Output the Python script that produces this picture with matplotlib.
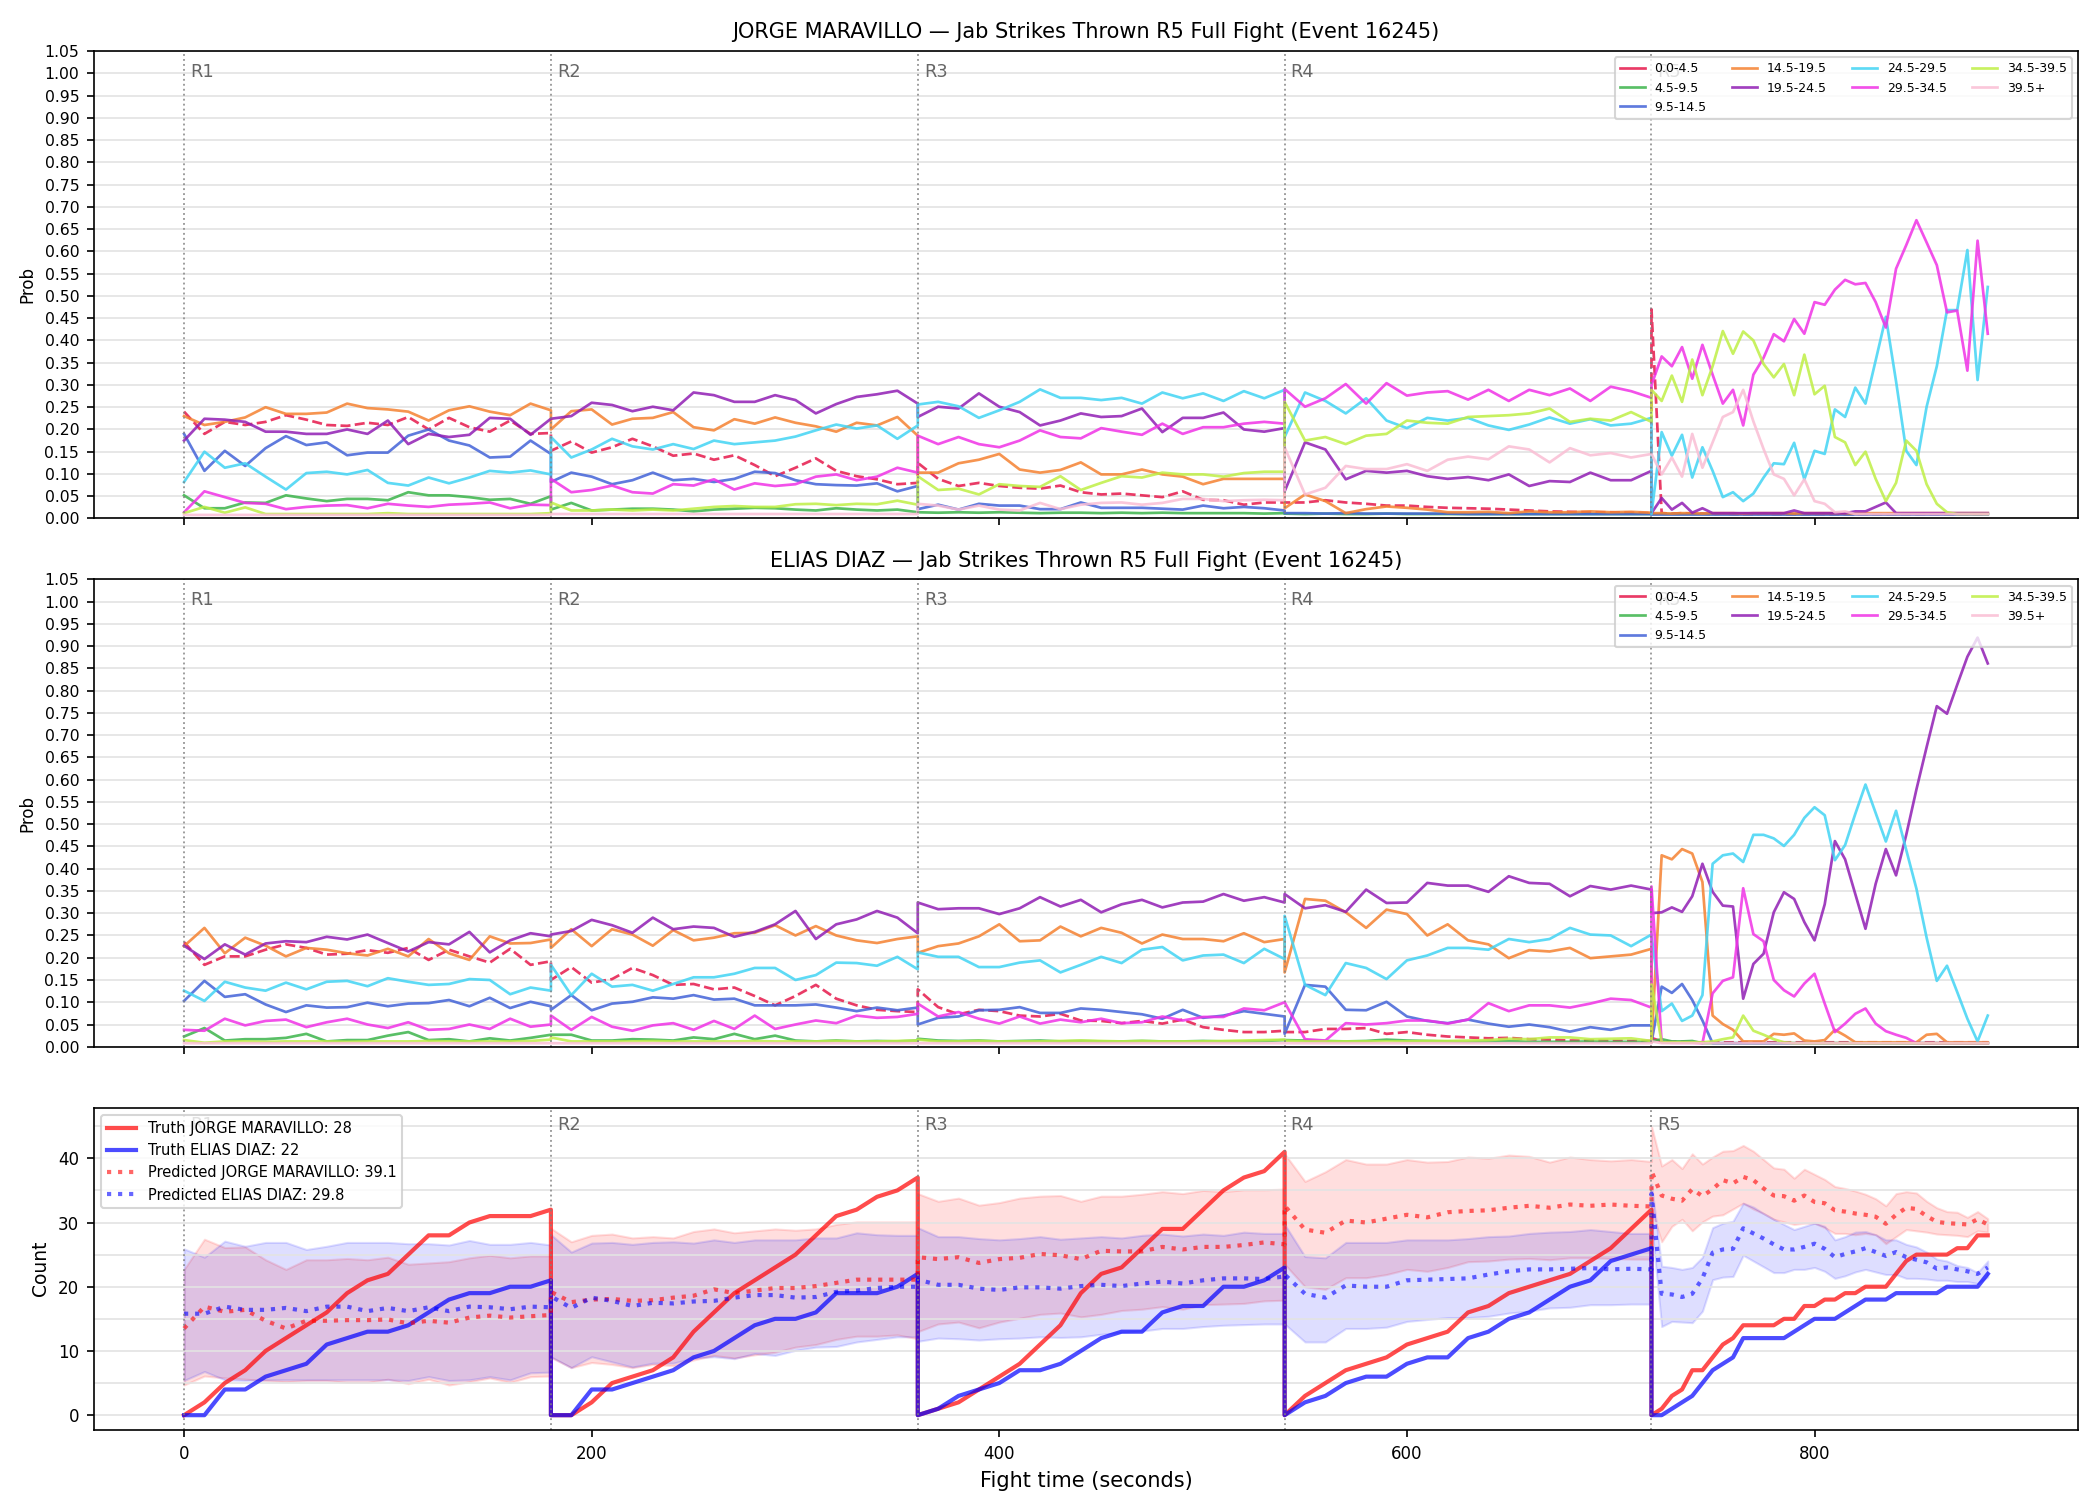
import numpy as np
import matplotlib.pyplot as plt
from matplotlib.ticker import MultipleLocator, FormatStrFormatter

# time grid: rounds 1-4 read every 10 s, round 5 every 5 s (fight stopped at 885 s)
round_starts = [0, 180, 360, 540, 720]
t = np.concatenate([np.arange(0, 181, 10) + s for s in round_starts[:4]]
                   + [np.arange(0, 166, 5) + 720])

bins = ['0.0-4.5', '4.5-9.5', '9.5-14.5', '14.5-19.5', '19.5-24.5',
        '24.5-29.5', '29.5-34.5', '34.5-39.5', '39.5+']
colors = ['#e6194b', '#3cb44b', '#4363d8', '#f58231', '#911eb4',
          '#42d4f4', '#f032e6', '#bfef45', '#fabed4']

# ---- JORGE MARAVILLO bin probabilities ----
jorge_b0 = [0.24, 0.19, 0.217, 0.21, 0.217, 0.232, 0.222, 0.21, 0.208, 0.215, 0.21, 0.228, 0.2, 0.226, 0.205, 0.195, 0.22, 0.19, 0.192,
            0.152, 0.173, 0.148, 0.16, 0.179, 0.162, 0.141, 0.146, 0.132, 0.142, 0.12, 0.095, 0.114, 0.135, 0.107, 0.095, 0.088, 0.077, 0.08,
            0.125, 0.089, 0.073, 0.08, 0.073, 0.069, 0.067, 0.074, 0.059, 0.054, 0.056, 0.052, 0.048, 0.061, 0.042, 0.041, 0.031, 0.036, 0.036,
            0.036, 0.036, 0.041, 0.036, 0.033, 0.029, 0.029, 0.026, 0.024, 0.023, 0.022, 0.02, 0.018, 0.016, 0.015, 0.014, 0.014, 0.013, 0.012,
            0.47, 0.012, 0.011, 0.012, 0.011, 0.011, 0.01, 0.011, 0.01, 0.01, 0.01, 0.011, 0.01, 0.01, 0.01, 0.01, 0.01, 0.01, 0.01, 0.01,
            0.01, 0.01, 0.01, 0.01, 0.01, 0.01, 0.01, 0.01, 0.01, 0.01, 0.01, 0.01, 0.01, 0.01]
jorge_b1 = [0.052, 0.023, 0.023, 0.036, 0.035, 0.052, 0.045, 0.039, 0.044, 0.044, 0.041, 0.059, 0.052, 0.052, 0.048, 0.042, 0.044, 0.033, 0.05,
            0.02, 0.035, 0.018, 0.02, 0.022, 0.022, 0.02, 0.016, 0.02, 0.022, 0.024, 0.023, 0.02, 0.018, 0.023, 0.02, 0.018, 0.02, 0.014,
            0.014, 0.013, 0.014, 0.013, 0.014, 0.013, 0.012, 0.013, 0.013, 0.012, 0.013, 0.012, 0.013, 0.012, 0.012, 0.012, 0.012, 0.011, 0.012,
            0.011, 0.01, 0.011, 0.01, 0.01, 0.011, 0.01, 0.01, 0.01, 0.01, 0.01, 0.01, 0.01, 0.01, 0.01, 0.01, 0.01, 0.01, 0.01,
            0.01, 0.01, 0.01, 0.01, 0.01, 0.01, 0.01, 0.01, 0.01, 0.01, 0.01, 0.01, 0.01, 0.01, 0.01, 0.01, 0.01, 0.01, 0.01, 0.01,
            0.01, 0.01, 0.01, 0.01, 0.01, 0.01, 0.01, 0.01, 0.01, 0.01, 0.01, 0.01, 0.01, 0.01]
jorge_b2 = [0.19, 0.107, 0.152, 0.118, 0.158, 0.185, 0.165, 0.171, 0.142, 0.148, 0.148, 0.186, 0.2, 0.175, 0.164, 0.137, 0.139, 0.175, 0.145,
            0.082, 0.103, 0.094, 0.077, 0.086, 0.103, 0.086, 0.089, 0.082, 0.089, 0.105, 0.102, 0.086, 0.077, 0.075, 0.074, 0.079, 0.061, 0.073,
            0.021, 0.031, 0.02, 0.033, 0.029, 0.029, 0.021, 0.021, 0.036, 0.024, 0.024, 0.024, 0.022, 0.02, 0.029, 0.023, 0.026, 0.023, 0.018,
            0.012, 0.012, 0.011, 0.012, 0.011, 0.011, 0.011, 0.011, 0.011, 0.01, 0.01, 0.01, 0.01, 0.01, 0.01, 0.01, 0.01, 0.01, 0.01,
            0.009, 0.009, 0.009, 0.009, 0.009, 0.009, 0.009, 0.009, 0.009, 0.009, 0.009, 0.009, 0.009, 0.009, 0.009, 0.009, 0.009,
            0.009, 0.009, 0.009, 0.009, 0.009, 0.009, 0.009, 0.009, 0.009, 0.009, 0.009, 0.009, 0.009, 0.009, 0.009, 0.009, 0.009]
jorge_b3 = [0.23, 0.21, 0.217, 0.227, 0.25, 0.235, 0.235, 0.238, 0.258, 0.248, 0.245, 0.24, 0.22, 0.243, 0.252, 0.24, 0.232, 0.258, 0.243,
            0.2, 0.241, 0.245, 0.211, 0.224, 0.226, 0.239, 0.205, 0.198, 0.223, 0.213, 0.227, 0.215, 0.207, 0.195, 0.215, 0.209, 0.228, 0.186,
            0.103, 0.103, 0.124, 0.132, 0.145, 0.11, 0.103, 0.109, 0.126, 0.099, 0.099, 0.11, 0.099, 0.094, 0.077, 0.089, 0.089, 0.089, 0.089,
            0.023, 0.054, 0.039, 0.012, 0.021, 0.027, 0.024, 0.02, 0.014, 0.014, 0.015, 0.012, 0.016, 0.014, 0.014, 0.016, 0.014, 0.015, 0.013,
            0.012, 0.012, 0.011, 0.012, 0.012, 0.011, 0.012, 0.012, 0.012, 0.011, 0.012, 0.012, 0.012, 0.012, 0.011, 0.012, 0.012,
            0.012, 0.012, 0.012, 0.011, 0.012, 0.012, 0.012, 0.012, 0.012, 0.012, 0.012, 0.012, 0.012, 0.012, 0.012, 0.012, 0.012]
jorge_b4 = [0.175, 0.224, 0.222, 0.217, 0.195, 0.195, 0.19, 0.19, 0.2, 0.19, 0.22, 0.167, 0.19, 0.183, 0.188, 0.226, 0.224, 0.188, 0.224,
            0.224, 0.23, 0.26, 0.255, 0.241, 0.251, 0.243, 0.283, 0.277, 0.262, 0.262, 0.277, 0.266, 0.236, 0.257, 0.273, 0.279, 0.287, 0.258,
            0.228, 0.251, 0.247, 0.281, 0.251, 0.239, 0.209, 0.22, 0.236, 0.228, 0.23, 0.247, 0.194, 0.226, 0.226, 0.238, 0.2, 0.195, 0.203,
            0.061, 0.171, 0.155, 0.088, 0.107, 0.103, 0.107, 0.095, 0.089, 0.093, 0.086, 0.099, 0.073, 0.084, 0.082, 0.103, 0.086, 0.086, 0.107,
            0.012, 0.046, 0.02, 0.035, 0.013, 0.023, 0.012, 0.012, 0.012, 0.012, 0.012, 0.012, 0.012, 0.012, 0.018, 0.012, 0.012,
            0.012, 0.012, 0.012, 0.016, 0.016, 0.026, 0.036, 0.012, 0.012, 0.012, 0.012, 0.012, 0.012, 0.012, 0.012, 0.012, 0.012]
jorge_b5 = [0.082, 0.15, 0.114, 0.124, 0.094, 0.065, 0.102, 0.105, 0.099, 0.109, 0.08, 0.074, 0.092, 0.079, 0.092, 0.107, 0.103, 0.108, 0.099,
            0.183, 0.137, 0.155, 0.179, 0.162, 0.155, 0.167, 0.156, 0.175, 0.167, 0.171, 0.175, 0.184, 0.198, 0.211, 0.202, 0.209, 0.179, 0.209,
            0.256, 0.262, 0.252, 0.226, 0.243, 0.262, 0.29, 0.271, 0.271, 0.266, 0.271, 0.258, 0.283, 0.27, 0.281, 0.264, 0.286, 0.27, 0.289,
            0.183, 0.283, 0.264, 0.236, 0.27, 0.22, 0.203, 0.226, 0.22, 0.226, 0.209, 0.199, 0.211, 0.227, 0.213, 0.223, 0.209, 0.213, 0.226,
            0.01, 0.194, 0.141, 0.188, 0.092, 0.16, 0.107, 0.048, 0.059, 0.039, 0.056, 0.092, 0.124, 0.122, 0.17, 0.088, 0.152,
            0.145, 0.245, 0.228, 0.294, 0.258, 0.355, 0.453, 0.308, 0.152, 0.12, 0.251, 0.342, 0.468, 0.468, 0.603, 0.311, 0.52]
jorge_b6 = [0.014, 0.061, 0.048, 0.035, 0.033, 0.021, 0.026, 0.029, 0.03, 0.023, 0.033, 0.029, 0.026, 0.031, 0.033, 0.036, 0.023, 0.031, 0.03,
            0.089, 0.059, 0.064, 0.074, 0.059, 0.056, 0.077, 0.074, 0.088, 0.065, 0.079, 0.073, 0.077, 0.094, 0.099, 0.086, 0.094, 0.114, 0.103,
            0.186, 0.167, 0.183, 0.167, 0.16, 0.175, 0.198, 0.183, 0.18, 0.203, 0.195, 0.188, 0.213, 0.19, 0.205, 0.205, 0.213, 0.217, 0.213,
            0.291, 0.251, 0.27, 0.302, 0.258, 0.304, 0.276, 0.283, 0.286, 0.267, 0.289, 0.264, 0.289, 0.277, 0.292, 0.264, 0.296, 0.286, 0.271,
            0.30, 0.364, 0.342, 0.385, 0.314, 0.39, 0.323, 0.258, 0.289, 0.209, 0.323, 0.361, 0.414, 0.398, 0.448, 0.415, 0.486,
            0.48, 0.514, 0.536, 0.526, 0.529, 0.486, 0.429, 0.561, 0.614, 0.67, 0.62, 0.569, 0.463, 0.467, 0.332, 0.624, 0.415]
jorge_b7 = [0.012, 0.026, 0.013, 0.025, 0.01, 0.01, 0.01, 0.01, 0.01, 0.01, 0.012, 0.01, 0.01, 0.01, 0.01, 0.01, 0.01, 0.01, 0.012,
            0.036, 0.018, 0.018, 0.02, 0.018, 0.02, 0.018, 0.022, 0.026, 0.028, 0.026, 0.026, 0.032, 0.033, 0.03, 0.033, 0.032, 0.04, 0.031,
            0.095, 0.064, 0.067, 0.054, 0.077, 0.073, 0.071, 0.095, 0.064, 0.08, 0.095, 0.092, 0.103, 0.099, 0.099, 0.094, 0.102, 0.105, 0.105,
            0.262, 0.175, 0.183, 0.167, 0.186, 0.19, 0.22, 0.215, 0.213, 0.228, 0.23, 0.232, 0.236, 0.247, 0.217, 0.224, 0.22, 0.239, 0.217,
            0.289, 0.264, 0.321, 0.262, 0.357, 0.277, 0.342, 0.421, 0.37, 0.42, 0.40, 0.347, 0.317, 0.347, 0.277, 0.368, 0.279,
            0.298, 0.183, 0.171, 0.12, 0.15, 0.089, 0.039, 0.08, 0.175, 0.152, 0.077, 0.033, 0.014, 0.01, 0.01, 0.01, 0.01]
jorge_b8 = [0.008, 0.008, 0.008, 0.008, 0.008, 0.008, 0.008, 0.008, 0.008, 0.008, 0.008, 0.008, 0.008, 0.008, 0.008, 0.008, 0.008, 0.008, 0.008,
            0.01, 0.01, 0.01, 0.01, 0.01, 0.01, 0.01, 0.01, 0.01, 0.01, 0.01, 0.01, 0.01, 0.01, 0.01, 0.01, 0.01, 0.01, 0.01,
            0.033, 0.029, 0.02, 0.029, 0.02, 0.018, 0.035, 0.021, 0.031, 0.035, 0.036, 0.031, 0.035, 0.044, 0.044, 0.039, 0.041, 0.042, 0.041,
            0.16, 0.054, 0.069, 0.118, 0.111, 0.111, 0.122, 0.107, 0.132, 0.139, 0.133, 0.162, 0.155, 0.126, 0.158, 0.142, 0.147, 0.137, 0.145,
            0.145, 0.099, 0.137, 0.094, 0.19, 0.114, 0.171, 0.228, 0.239, 0.289, 0.218, 0.156, 0.099, 0.089, 0.052, 0.088, 0.039,
            0.033, 0.014, 0.016, 0.01, 0.01, 0.01, 0.01, 0.01, 0.01, 0.01, 0.01, 0.01, 0.01, 0.01, 0.01, 0.01, 0.01]

# ---- ELIAS DIAZ bin probabilities ----
elias_b0 = [0.235, 0.184, 0.203, 0.203, 0.218, 0.23, 0.222, 0.207, 0.209, 0.217, 0.211, 0.222, 0.195, 0.218, 0.203, 0.189, 0.22, 0.184, 0.192,
            0.15, 0.179, 0.144, 0.152, 0.177, 0.161, 0.139, 0.141, 0.129, 0.133, 0.114, 0.093, 0.114, 0.139, 0.108, 0.093, 0.083, 0.08, 0.078,
            0.129, 0.089, 0.073, 0.083, 0.08, 0.07, 0.068, 0.074, 0.059, 0.058, 0.053, 0.058, 0.052, 0.061, 0.044, 0.038, 0.033, 0.033, 0.036,
            0.033, 0.033, 0.04, 0.04, 0.042, 0.029, 0.033, 0.027, 0.023, 0.021, 0.019, 0.02, 0.017, 0.016, 0.014, 0.014, 0.013, 0.013, 0.013,
            0.02, 0.012, 0.011, 0.011, 0.01, 0.01, 0.01, 0.01, 0.01, 0.01, 0.01, 0.01, 0.01, 0.01, 0.01, 0.01, 0.01,
            0.01, 0.01, 0.01, 0.01, 0.01, 0.01, 0.01, 0.01, 0.01, 0.01, 0.01, 0.01, 0.01, 0.01, 0.01, 0.01, 0.01]
elias_b1 = [0.023, 0.042, 0.014, 0.017, 0.017, 0.02, 0.029, 0.012, 0.015, 0.015, 0.025, 0.033, 0.015, 0.017, 0.012, 0.019, 0.014, 0.02, 0.027,
            0.027, 0.027, 0.014, 0.014, 0.017, 0.016, 0.014, 0.021, 0.017, 0.029, 0.017, 0.025, 0.014, 0.012, 0.014, 0.012, 0.013, 0.012, 0.014,
            0.018, 0.014, 0.013, 0.014, 0.012, 0.013, 0.014, 0.012, 0.013, 0.012, 0.012, 0.013, 0.012, 0.012, 0.013, 0.012, 0.012, 0.013, 0.015,
            0.015, 0.014, 0.013, 0.012, 0.013, 0.016, 0.014, 0.013, 0.012, 0.011, 0.012, 0.013, 0.011, 0.011, 0.011, 0.012, 0.011, 0.011, 0.012,
            0.012, 0.017, 0.012, 0.012, 0.013, 0.008, 0.008, 0.008, 0.008, 0.008, 0.008, 0.008, 0.008, 0.008, 0.008, 0.008, 0.008,
            0.008, 0.008, 0.008, 0.008, 0.008, 0.008, 0.008, 0.008, 0.008, 0.008, 0.008, 0.008, 0.008, 0.008, 0.008, 0.008, 0.008]
elias_b2 = [0.103, 0.148, 0.112, 0.118, 0.095, 0.078, 0.093, 0.088, 0.089, 0.099, 0.091, 0.097, 0.098, 0.105, 0.091, 0.11, 0.087, 0.101, 0.091,
            0.083, 0.116, 0.082, 0.097, 0.101, 0.111, 0.108, 0.116, 0.106, 0.108, 0.093, 0.093, 0.093, 0.095, 0.088, 0.08, 0.088, 0.082, 0.088,
            0.05, 0.065, 0.068, 0.082, 0.083, 0.089, 0.076, 0.076, 0.086, 0.083, 0.078, 0.073, 0.063, 0.083, 0.065, 0.07, 0.08, 0.074, 0.068,
            0.029, 0.139, 0.135, 0.083, 0.082, 0.101, 0.068, 0.058, 0.053, 0.061, 0.052, 0.045, 0.05, 0.044, 0.034, 0.044, 0.038, 0.048, 0.048,
            0.01, 0.135, 0.121, 0.141, 0.105, 0.059, 0.008, 0.008, 0.008, 0.008, 0.008, 0.008, 0.008, 0.008, 0.008, 0.008, 0.008,
            0.008, 0.008, 0.008, 0.008, 0.008, 0.008, 0.008, 0.008, 0.008, 0.008, 0.008, 0.008, 0.008, 0.008, 0.008, 0.008, 0.008]
elias_b3 = [0.226, 0.267, 0.21, 0.245, 0.227, 0.203, 0.222, 0.218, 0.21, 0.205, 0.22, 0.203, 0.242, 0.21, 0.195, 0.248, 0.232, 0.233, 0.241,
            0.222, 0.264, 0.226, 0.264, 0.252, 0.227, 0.262, 0.239, 0.245, 0.255, 0.256, 0.273, 0.25, 0.271, 0.25, 0.239, 0.233, 0.242, 0.248,
            0.211, 0.226, 0.232, 0.248, 0.275, 0.237, 0.239, 0.27, 0.248, 0.267, 0.256, 0.232, 0.252, 0.242, 0.242, 0.237, 0.255, 0.235, 0.242,
            0.167, 0.332, 0.328, 0.302, 0.267, 0.308, 0.298, 0.25, 0.275, 0.239, 0.23, 0.199, 0.217, 0.214, 0.222, 0.199, 0.203, 0.207, 0.22,
            0.01, 0.43, 0.421, 0.444, 0.434, 0.37, 0.07, 0.051, 0.038, 0.012, 0.012, 0.012, 0.029, 0.027, 0.03, 0.014, 0.012,
            0.015, 0.038, 0.025, 0.01, 0.01, 0.01, 0.01, 0.01, 0.01, 0.01, 0.027, 0.029, 0.01, 0.01, 0.01, 0.01, 0.01]
elias_b4 = [0.227, 0.197, 0.23, 0.207, 0.232, 0.237, 0.235, 0.247, 0.241, 0.252, 0.233, 0.214, 0.235, 0.23, 0.258, 0.212, 0.239, 0.255, 0.248,
            0.252, 0.26, 0.285, 0.273, 0.256, 0.29, 0.264, 0.27, 0.267, 0.247, 0.258, 0.275, 0.305, 0.242, 0.275, 0.286, 0.305, 0.29, 0.255,
            0.324, 0.309, 0.311, 0.311, 0.298, 0.311, 0.336, 0.315, 0.33, 0.302, 0.32, 0.33, 0.313, 0.324, 0.326, 0.343, 0.328, 0.336, 0.324,
            0.343, 0.311, 0.318, 0.303, 0.353, 0.323, 0.324, 0.368, 0.362, 0.362, 0.348, 0.383, 0.368, 0.366, 0.338, 0.361, 0.353, 0.362, 0.353,
            0.30, 0.302, 0.313, 0.303, 0.338, 0.411, 0.348, 0.317, 0.315, 0.108, 0.186, 0.209, 0.302, 0.347, 0.332, 0.28, 0.239,
            0.32, 0.462, 0.421, 0.343, 0.265, 0.366, 0.444, 0.385, 0.476, 0.578, 0.673, 0.765, 0.748, 0.813, 0.876, 0.919, 0.861]
elias_b5 = [0.126, 0.103, 0.146, 0.133, 0.126, 0.144, 0.129, 0.146, 0.148, 0.136, 0.154, 0.146, 0.139, 0.141, 0.152, 0.15, 0.118, 0.133, 0.126,
            0.184, 0.116, 0.164, 0.135, 0.139, 0.126, 0.141, 0.156, 0.156, 0.164, 0.177, 0.177, 0.15, 0.161, 0.189, 0.188, 0.182, 0.202, 0.174,
            0.212, 0.202, 0.202, 0.179, 0.179, 0.189, 0.194, 0.167, 0.184, 0.202, 0.188, 0.218, 0.224, 0.194, 0.205, 0.207, 0.188, 0.22, 0.197,
            0.294, 0.139, 0.116, 0.188, 0.177, 0.152, 0.194, 0.205, 0.222, 0.222, 0.218, 0.242, 0.235, 0.242, 0.267, 0.252, 0.25, 0.226, 0.252,
            0.25, 0.08, 0.097, 0.058, 0.07, 0.116, 0.411, 0.43, 0.434, 0.415, 0.476, 0.476, 0.468, 0.451, 0.476, 0.514, 0.538,
            0.52, 0.419, 0.453, 0.523, 0.589, 0.525, 0.461, 0.53, 0.442, 0.355, 0.245, 0.148, 0.182, 0.123, 0.063, 0.012, 0.07]
elias_b6 = [0.038, 0.036, 0.063, 0.048, 0.058, 0.061, 0.044, 0.055, 0.063, 0.05, 0.042, 0.055, 0.038, 0.04, 0.05, 0.04, 0.063, 0.045, 0.05,
            0.07, 0.038, 0.067, 0.045, 0.036, 0.048, 0.053, 0.038, 0.058, 0.04, 0.07, 0.04, 0.05, 0.059, 0.053, 0.07, 0.065, 0.067, 0.074,
            0.097, 0.068, 0.078, 0.063, 0.052, 0.068, 0.052, 0.061, 0.055, 0.063, 0.053, 0.055, 0.068, 0.059, 0.067, 0.067, 0.086, 0.082, 0.1,
            0.1, 0.017, 0.014, 0.053, 0.05, 0.053, 0.059, 0.059, 0.052, 0.061, 0.098, 0.08, 0.093, 0.093, 0.088, 0.097, 0.108, 0.105, 0.088,
            0.36, 0.01, 0.009, 0.009, 0.009, 0.008, 0.12, 0.148, 0.156, 0.356, 0.253, 0.237, 0.15, 0.127, 0.113, 0.142, 0.164,
            0.097, 0.033, 0.052, 0.074, 0.086, 0.052, 0.035, 0.027, 0.02, 0.008, 0.008, 0.008, 0.008, 0.008, 0.008, 0.008, 0.008]
elias_b7 = [0.015, 0.009, 0.012, 0.012, 0.011, 0.012, 0.012, 0.012, 0.011, 0.012, 0.012, 0.012, 0.013, 0.012, 0.012, 0.012, 0.012, 0.013, 0.016,
            0.021, 0.012, 0.012, 0.012, 0.012, 0.013, 0.012, 0.012, 0.012, 0.012, 0.013, 0.012, 0.012, 0.012, 0.013, 0.012, 0.012, 0.013, 0.014,
            0.016, 0.012, 0.012, 0.013, 0.012, 0.012, 0.012, 0.013, 0.014, 0.013, 0.012, 0.013, 0.012, 0.012, 0.012, 0.013, 0.014, 0.015, 0.016,
            0.014, 0.012, 0.012, 0.012, 0.012, 0.012, 0.012, 0.013, 0.013, 0.014, 0.015, 0.018, 0.017, 0.021, 0.021, 0.017, 0.018, 0.019, 0.013,
            0.14, 0.01, 0.01, 0.01, 0.01, 0.01, 0.012, 0.017, 0.021, 0.07, 0.036, 0.027, 0.017, 0.01, 0.008, 0.008, 0.008,
            0.008, 0.008, 0.008, 0.008, 0.008, 0.008, 0.008, 0.008, 0.008, 0.008, 0.008, 0.008, 0.008, 0.008, 0.008, 0.008, 0.008]
elias_b8 = [0.008, 0.008, 0.008, 0.008, 0.008, 0.008, 0.008, 0.008, 0.008, 0.008, 0.008, 0.008, 0.008, 0.008, 0.008, 0.008, 0.008, 0.008, 0.008,
            0.008, 0.008, 0.008, 0.008, 0.008, 0.008, 0.008, 0.008, 0.008, 0.008, 0.008, 0.008, 0.008, 0.008, 0.008, 0.008, 0.008, 0.008, 0.008,
            0.008, 0.008, 0.008, 0.008, 0.008, 0.008, 0.008, 0.008, 0.008, 0.008, 0.008, 0.008, 0.008, 0.008, 0.008, 0.008, 0.008, 0.008, 0.008,
            0.008, 0.008, 0.008, 0.008, 0.008, 0.008, 0.008, 0.008, 0.008, 0.008, 0.008, 0.008, 0.008, 0.008, 0.008, 0.008, 0.008, 0.008, 0.008,
            0.012, 0.008, 0.008, 0.008, 0.008, 0.008, 0.008, 0.008, 0.008, 0.008, 0.008, 0.008, 0.008, 0.008, 0.008, 0.008, 0.008,
            0.008, 0.008, 0.008, 0.008, 0.008, 0.008, 0.008, 0.008, 0.008, 0.008, 0.008, 0.008, 0.008, 0.008, 0.008, 0.008, 0.008]

# ---- cumulative counts (per round) ----
truth_jorge = [0, 2, 5, 7, 10, 12, 14, 16, 19, 21, 22, 25, 28, 28, 30, 31, 31, 31, 32,
               0, 0, 2, 5, 6, 7, 9, 13, 16, 19, 21, 23, 25, 28, 31, 32, 34, 35, 37,
               0, 1, 2, 4, 6, 8, 11, 14, 19, 22, 23, 26, 29, 29, 32, 35, 37, 38, 41,
               0, 3, 5, 7, 8, 9, 11, 12, 13, 16, 17, 19, 20, 21, 22, 24, 26, 29, 32,
               0, 1, 3, 4, 7, 7, 9, 11, 12, 14, 14, 14, 14, 15, 15, 17, 17,
               18, 18, 19, 19, 20, 20, 20, 22, 24, 25, 25, 25, 25, 26, 26, 28, 28]
truth_elias = [0, 0, 4, 4, 6, 7, 8, 11, 12, 13, 13, 14, 16, 18, 19, 19, 20, 20, 21,
               0, 0, 4, 4, 5, 6, 7, 9, 10, 12, 14, 15, 15, 16, 19, 19, 19, 20, 22,
               0, 1, 3, 4, 5, 7, 7, 8, 10, 12, 13, 13, 16, 17, 17, 20, 20, 21, 23,
               0, 2, 3, 5, 6, 6, 8, 9, 9, 12, 13, 15, 16, 18, 20, 21, 24, 25, 26,
               0, 0, 1, 2, 3, 5, 7, 8, 9, 12, 12, 12, 12, 12, 13, 14, 15,
               15, 15, 16, 17, 18, 18, 18, 19, 19, 19, 19, 19, 20, 20, 20, 20, 22]
pred_jorge = [13.5, 16.9, 16.1, 16.4, 14.7, 13.5, 14.7, 14.7, 14.8, 14.8, 14.9, 14.3, 14.7, 14.4, 15.2, 15.5, 15.2, 15.4, 15.6,
              19.2, 17.6, 18.0, 18.1, 17.8, 17.9, 18.3, 18.6, 19.6, 19.0, 19.4, 19.8, 19.8, 20.1, 20.6, 21.1, 21.1, 21.1, 21.1,
              24.6, 24.3, 24.6, 23.7, 24.3, 24.5, 25.1, 24.9, 24.3, 25.6, 25.5, 25.5, 26.2, 25.8, 26.2, 26.2, 26.5, 26.9, 26.6,
              32.6, 28.9, 28.4, 30.3, 30.0, 30.6, 31.2, 30.8, 31.6, 31.8, 31.9, 32.3, 32.6, 32.3, 32.8, 32.6, 32.8, 32.6, 32.5,
              38.0, 34.2, 33.7, 33.4, 35.2, 34.1, 35.2, 36.6, 36.1, 37.1, 36.6, 35.3, 34.2, 34.1, 33.4, 34.2, 33.2,
              33.0, 31.9, 31.7, 31.4, 31.2, 30.9, 29.8, 31.2, 32.3, 32.1, 31.0, 30.1, 29.9, 29.8, 29.7, 30.5, 29.7]
pred_elias = [15.8, 15.8, 16.9, 16.4, 16.4, 16.7, 16.2, 16.9, 16.9, 16.2, 16.7, 16.2, 16.8, 16.2, 16.9, 16.8, 16.5, 16.9, 16.8,
              18.5, 16.7, 18.3, 17.8, 17.0, 17.5, 17.4, 17.7, 17.8, 18.3, 18.7, 18.7, 18.3, 18.4, 19.2, 19.4, 19.8, 20.0, 20.0,
              21.1, 20.3, 20.3, 19.7, 19.5, 19.9, 19.9, 19.7, 20.1, 20.3, 20.1, 20.5, 20.8, 20.5, 21.0, 21.3, 21.3, 21.2, 21.6,
              21.9, 18.9, 18.3, 20.2, 20.0, 20.0, 21.0, 21.1, 21.2, 21.3, 21.9, 22.4, 22.7, 22.7, 22.8, 22.9, 22.7, 22.8, 22.7,
              34.5, 18.9, 18.8, 18.4, 18.9, 21.3, 25.3, 25.8, 25.9, 29.1, 28.3, 27.5, 26.6, 25.8, 25.8, 26.2, 26.7,
              25.9, 24.6, 25.1, 25.5, 26.0, 25.4, 24.8, 25.4, 24.6, 24.2, 23.8, 22.8, 23.0, 22.7, 22.4, 22.0, 23.0]
jorge_hi = [22.7, 27.4, 26.1, 26.2, 24.2, 22.7, 24.2, 24.2, 24.4, 24.2, 24.6, 23.5, 23.7, 23.9, 24.5, 24.9, 24.5, 24.8, 24.8,
            29.1, 27.0, 28.0, 28.2, 27.6, 27.8, 27.6, 28.6, 29.0, 28.4, 28.7, 29.0, 28.8, 29.0, 29.7, 30.1, 30.1, 30.1, 30.1,
            34.5, 33.3, 33.8, 32.7, 33.1, 33.8, 34.1, 34.2, 33.3, 34.1, 34.1, 34.4, 34.8, 34.5, 35.0, 34.8, 35.1, 35.1, 35.2,
            40.7, 36.4, 37.9, 39.8, 39.1, 39.1, 39.8, 39.4, 39.5, 40.2, 40.0, 40.5, 40.3, 39.4, 40.2, 39.8, 39.6, 39.8, 39.5,
            45.0, 38.8, 39.8, 38.4, 40.7, 39.1, 40.2, 41.1, 41.2, 42.0, 41.1, 39.8, 38.5, 38.3, 36.9, 38.3, 37.5,
            36.7, 35.6, 35.3, 34.9, 34.4, 33.7, 32.6, 34.5, 34.8, 34.6, 33.3, 32.3, 31.7, 31.6, 30.8, 31.7, 30.6]
jorge_lo = [4.7, 6.1, 5.8, 5.6, 5.4, 5.2, 5.4, 5.4, 5.1, 5.1, 5.6, 4.9, 5.6, 4.7, 5.2, 5.8, 5.1, 6.0, 6.1,
            9.0, 7.4, 8.2, 7.9, 7.4, 7.9, 7.7, 8.6, 9.3, 8.9, 9.4, 9.8, 10.6, 11.0, 11.8, 12.3, 12.3, 12.5, 11.9,
            13.0, 14.2, 14.5, 13.6, 14.5, 15.1, 15.7, 15.9, 15.3, 15.7, 16.3, 16.5, 16.9, 16.5, 17.2, 17.3, 17.4, 17.8, 17.9,
            23.5, 20.0, 19.6, 21.4, 21.4, 21.9, 22.7, 22.4, 23.0, 23.9, 24.0, 24.3, 24.4, 24.2, 24.5, 24.5, 24.4, 24.3, 24.3,
            32.0, 27.0, 29.4, 30.5, 28.7, 30.1, 31.0, 31.2, 32.1, 33.0, 32.1, 31.4, 30.5, 30.1, 29.7, 29.9, 29.9,
            29.2, 28.3, 28.3, 28.1, 28.3, 28.1, 26.7, 27.8, 28.9, 28.7, 28.5, 28.2, 28.1, 28.0, 27.8, 28.7, 28.5]
elias_hi = [25.9, 24.6, 27.1, 26.3, 26.9, 26.9, 25.8, 26.3, 26.9, 26.9, 26.9, 26.7, 26.7, 26.5, 27.2, 26.6, 26.6, 26.9, 26.5,
            28.1, 25.4, 26.8, 26.9, 26.6, 26.9, 27.0, 26.8, 27.3, 26.9, 27.3, 27.3, 27.3, 27.6, 27.6, 28.4, 28.1, 28.0, 28.0,
            29.2, 27.8, 27.8, 27.5, 27.3, 27.5, 27.8, 27.4, 27.6, 27.8, 27.6, 28.0, 28.2, 27.9, 28.2, 28.0, 28.5, 28.3, 28.3,
            29.7, 24.7, 24.5, 26.9, 26.9, 26.9, 27.3, 27.3, 27.3, 27.5, 27.8, 27.9, 28.3, 28.5, 28.6, 28.9, 28.6, 28.3, 28.3,
            36.0, 23.2, 23.0, 22.7, 23.0, 24.6, 29.2, 29.9, 30.2, 33.0, 32.4, 31.4, 30.5, 29.7, 28.9, 29.4, 29.9,
            29.4, 27.3, 27.8, 28.5, 28.6, 28.1, 27.3, 27.3, 26.6, 26.2, 25.4, 24.3, 24.0, 23.3, 23.0, 22.2, 24.0]
elias_lo = [5.4, 6.8, 5.5, 5.4, 5.5, 5.5, 5.5, 5.5, 5.5, 5.5, 5.5, 5.4, 6.0, 5.4, 5.5, 6.0, 5.5, 6.6, 6.7,
            9.1, 7.4, 9.1, 8.3, 7.5, 8.1, 8.1, 8.9, 9.1, 8.8, 9.6, 9.3, 10.1, 10.6, 10.7, 11.4, 11.8, 12.2, 12.2,
            11.5, 12.0, 11.9, 11.7, 11.9, 12.0, 12.2, 12.1, 12.2, 12.6, 12.9, 13.1, 13.5, 13.5, 13.8, 14.0, 14.1, 14.2, 14.2,
            14.2, 11.4, 11.4, 13.5, 13.5, 13.7, 14.6, 14.9, 15.2, 15.2, 15.4, 15.9, 16.2, 16.7, 16.8, 17.2, 17.2, 17.3, 17.3,
            30.0, 13.8, 14.6, 14.5, 14.4, 16.2, 21.1, 21.5, 21.6, 24.9, 24.0, 23.1, 22.2, 22.2, 22.7, 22.7, 23.0,
            22.4, 21.3, 21.7, 22.3, 22.7, 22.3, 21.9, 21.9, 21.3, 21.3, 21.2, 21.0, 21.0, 20.8, 20.8, 20.5, 21.5]

jorge_probs = [jorge_b0, jorge_b1, jorge_b2, jorge_b3, jorge_b4, jorge_b5, jorge_b6, jorge_b7, jorge_b8]
elias_probs = [elias_b0, elias_b1, elias_b2, elias_b3, elias_b4, elias_b5, elias_b6, elias_b7, elias_b8]
for name, arr in [('jorge', a) for a in jorge_probs] + [('elias', a) for a in elias_probs] + \
        [('truth_j', truth_jorge), ('truth_e', truth_elias), ('pred_j', pred_jorge), ('pred_e', pred_elias),
         ('jhi', jorge_hi), ('jlo', jorge_lo), ('ehi', elias_hi), ('elo', elias_lo)]:
    if len(arr) != len(t):
        raise ValueError(f'{name}: {len(arr)} != {len(t)}')

fig, axs = plt.subplots(3, 1, figsize=(14, 10), dpi=150, sharex=True,
                        gridspec_kw={'height_ratios': [1.45, 1.45, 1]})
fig.subplots_adjust(left=0.0447, right=0.9895, top=0.966, bottom=0.0467, hspace=0.145)


def round_marks(ax):
    for i, s in enumerate(round_starts):
        ax.axvline(s, color='gray', ls=':', lw=0.9, alpha=0.8)
        ax.text(s + 3, 0.975, f'R{i + 1}', transform=ax.get_xaxis_transform(),
                ha='left', va='top', color='#666666', fontsize=8.5)


for ax, probs, who in [(axs[0], jorge_probs, 'JORGE MARAVILLO'), (axs[1], elias_probs, 'ELIAS DIAZ')]:
    for k, (lab, c) in enumerate(zip(bins, colors)):
        ax.plot(t, probs[k], color=c, lw=1.3, alpha=0.85, ls='--' if k == 0 else '-', label=lab)
    round_marks(ax)
    ax.set_ylim(0, 1.05)
    ax.yaxis.set_major_locator(MultipleLocator(0.05))
    ax.yaxis.set_major_formatter(FormatStrFormatter('%.2f'))
    ax.grid(axis='y', color='#e3e3e3', lw=0.8)
    ax.set_ylabel('Prob', fontsize=8)
    ax.tick_params(labelsize=7.5)
    ax.set_title(f'{who} \u2014 Jab Strikes Thrown R5 Full Fight (Event 16245)', fontsize=10)
    leg = ax.legend(loc='upper right', ncol=4, fontsize=6, framealpha=0.8)
    leg.get_lines()[0].set_linestyle('-')

ax = axs[2]
ax.fill_between(t, jorge_lo, jorge_hi, color='red', alpha=0.13)
ax.fill_between(t, elias_lo, elias_hi, color='blue', alpha=0.13)
ax.plot(t, truth_jorge, color='red', lw=2, alpha=0.7, label='Truth JORGE MARAVILLO: 28')
ax.plot(t, truth_elias, color='blue', lw=2, alpha=0.7, label='Truth ELIAS DIAZ: 22')
ax.plot(t, pred_jorge, ':', color='red', lw=2, alpha=0.6, label='Predicted JORGE MARAVILLO: 39.1')
ax.plot(t, pred_elias, ':', color='blue', lw=2, alpha=0.6, label='Predicted ELIAS DIAZ: 29.8')
round_marks(ax)
ax.set_ylim(-2.3, 47.9)
ax.yaxis.set_major_locator(MultipleLocator(10))
ax.yaxis.set_minor_locator(MultipleLocator(5))
ax.tick_params(which='minor', length=0)
ax.grid(axis='y', which='both', color='#e3e3e3', lw=0.8)
ax.set_ylabel('Count', fontsize=9)
ax.tick_params(labelsize=8)
ax.set_xlabel('Fight time (seconds)', fontsize=10)
ax.legend(loc='upper left', fontsize=7, framealpha=0.8)
ax.set_xlim(-44.25, 929.25)

plt.savefig('out.png', dpi=150)
